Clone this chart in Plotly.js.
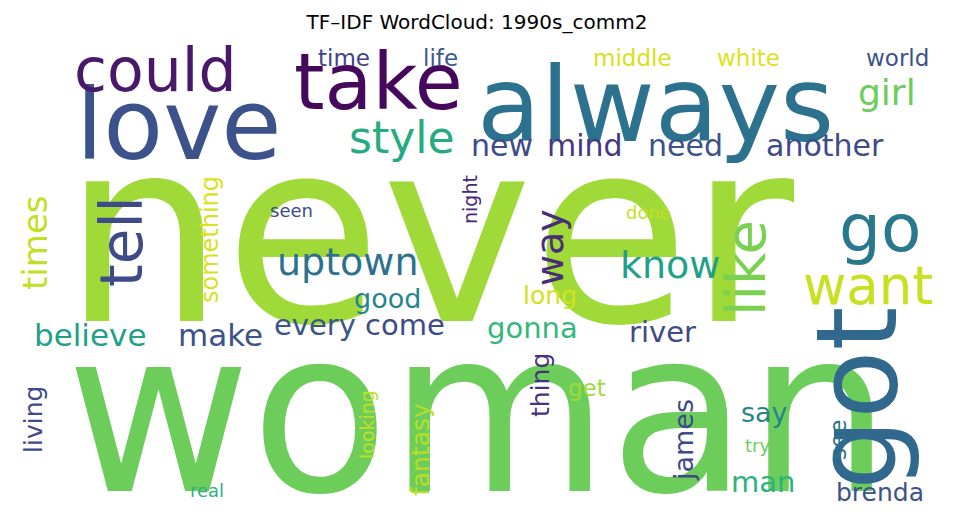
<!DOCTYPE html>
<html>
<head>
<meta charset="utf-8">
<script src="https://cdn.plot.ly/plotly-3.0.1.min.js"></script>
<style>body{margin:0;background:#fff}#chart{width:954px;height:523px}</style>
</head>
<body>
<div id="chart"></div>
<script>
// word cloud data: word, centre (pixel units), font size, angle, colour
const words  = ['never','woman','always','love','take','could','got','go','want','tell','like','style','girl','new','mind','need','another','times','uptown','way','know','good','long','believe','make','every','come','gonna','river','something','time','life','middle','white','world','seen','done','night','thing','get','fantasy','james','say','man','see','try','brenda','living','looking','real'];
const wordX  = [428,478,655,178,378,155,857,880,868,122,745,402,887,502,585,685,825,35,348,550,670,387,550,90,220,315,405,532,662,210,344,440,632,748,897,291,648,470,540,587,420,683,764,763,838,757,880,33,367,207];
const wordY  = [232,412,105,125,82,70,398,228,285,242,268,137,92,145,145,145,145,243,262,248,265,298,295,335,335,325,325,328,332,240,58,58,58,58,58,210,212,200,385,388,450,440,412,482,440,445,492,420,425,490];
const sizes  = [255,226,104,98,78,60,112,66,53,58,56,44,36,30,30,30,30,34,38,38,38,27,25,31,31,29,29,29,29,24,23,23,23,23,23,18,18,19,25,23,25,27,27,29,23,18,25,25,19,18];
const angles = [0,0,0,0,0,0,-90,0,0,-90,-90,0,0,0,0,0,0,-90,0,-90,0,0,0,0,0,0,0,0,0,-90,0,0,0,0,0,0,0,-90,-90,0,-90,-90,0,0,-90,0,0,-90,-90,0];
const colors = ['#a0da39','#6ccd5a','#2c728e','#3b528b','#46085c','#48186a','#31688e','#2a788e','#c8e020','#3e4a89','#7ad151','#25ab82','#6ccd5a','#3e4a89','#453781','#3b528b','#3e4a89','#c2df23','#2c728e','#472d7b','#1fa188','#25858e','#d2e21b','#1fa188','#3b528b','#39568c','#3e4a89','#35b779','#3e4a89','#d8e219','#414487','#38598c','#d5e21a','#dde318','#3b528b','#3e4a89','#c2df23','#482878','#46337e','#a2da37','#b5de2b','#3e4a89','#25858e','#2db27d','#2c728e','#6ccd5a','#3b528b','#3e4a89','#c0df25','#2db27d'];

const annotations = words.map((w, i) => ({
    x: wordX[i], y: wordY[i], xref: 'x', yref: 'y',
    text: w, showarrow: false, textangle: angles[i],
    xanchor: 'center', yanchor: 'middle',
    font: { family: 'DejaVu Sans', size: sizes[i], color: colors[i] }
}));

const layout = {
    width: 954, height: 523,
    margin: { l: 0, r: 0, t: 0, b: 0 },
    paper_bgcolor: '#fff', plot_bgcolor: '#fff',
    showlegend: false,
    title: {
        text: 'TF–IDF WordCloud: 1990s_comm2',
        font: { family: 'DejaVu Sans', size: 20, color: '#000' },
        x: 0.5, xanchor: 'center', y: 1 - 22 / 523, yanchor: 'middle', yref: 'container'
    },
    xaxis: { range: [0, 954], visible: false, fixedrange: true },
    yaxis: { range: [523, 0], visible: false, fixedrange: true },
    annotations: annotations
};

Plotly.newPlot('chart', [{ x: [], y: [], type: 'scatter', mode: 'markers' }], layout, { displayModeBar: false, staticPlot: true });
</script>
</body>
</html>
